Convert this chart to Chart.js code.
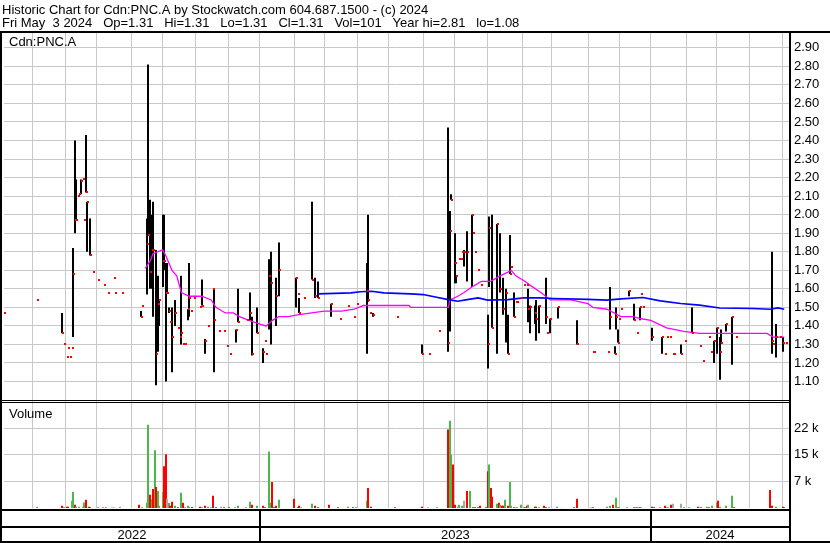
<!DOCTYPE html>
<html lang="en">

<head>
    <meta charset="UTF-8">
    <title>Historic Chart for Cdn:PNC.A</title>
    <script src="https://cdn.jsdelivr.net/npm/chart.js"></script>
    <style>
        html, body { margin: 0; padding: 0; background: #fff; }
        #chart { display: block; }
    </style>
</head>

<body>
    <canvas id="chart" width="830" height="543"></canvas>

    <script>
        const headerLines = [
            'Historic Chart for Cdn:PNC.A by Stockwatch.com 604.687.1500 - (c) 2024',
            'Fri May  3 2024   Op=1.31   Hi=1.31   Lo=1.31   Cl=1.31   Vol=101   Year hi=2.81   lo=1.08'
        ];
        const symbolLabel = 'Cdn:PNC.A';
        const volumeLabel = 'Volume';

        // x values are trading-day numbers counted from May 3 2022
        const monthStarts = [18, 39, 59, 81, 101, 122, 143, 163, 185, 204, 225, 245,
            267, 287, 308, 330, 349, 372, 392, 412, 435, 454, 475, 496];
        const yearStarts = [0, 163, 412, 500];
        const yearLabels = ['2022', '2023', '2024'];

        const priceTicks = [1.10, 1.20, 1.30, 1.40, 1.50, 1.60, 1.70, 1.80, 1.90, 2.00,
            2.10, 2.20, 2.30, 2.40, 2.50, 2.60, 2.70, 2.80, 2.90];
        const volTicks = [7400, 14800, 22200];
        const volTickLabels = ['7 k', '15 k', '22 k'];

        const days = [0, 21, 37, 38, 40, 41, 42, 43, 44, 45,
            46, 47, 48, 49, 50, 51, 52, 53, 55, 57,
            60, 64, 66, 70, 71, 75, 87, 88, 91, 92,
            93, 94, 95, 97, 98, 99, 101, 102, 103, 104,
            105, 106, 107, 109, 111, 112, 113, 114, 115, 117,
            118, 119, 121, 125, 126, 128, 130, 133, 134, 137,
            140, 142, 144, 148, 149, 155, 157, 158, 161, 165,
            166, 167, 169, 170, 173, 175, 186, 187, 188, 191,
            196, 198, 200, 208, 214, 219, 223, 225, 231, 232,
            233, 235, 250, 266, 271, 277, 283, 284, 285, 287,
            288, 290, 291, 292, 293, 295, 298, 299, 300, 302,
            304, 308, 309, 311, 314, 316, 318, 320, 321, 322,
            323, 325, 326, 327, 329, 331, 333, 334, 335, 338,
            339, 341, 345, 346, 348, 353, 365, 375, 376, 385,
            386, 389, 390, 391, 392, 393, 398, 401, 403, 405,
            406, 407, 413, 419, 421, 422, 424, 426, 427, 431,
            434, 438, 443, 445, 449, 450, 452, 454, 456, 457,
            460, 464, 466, 489, 490, 492, 494, 496, 498];
        const highs = [1.47, 1.54, 1.47, 1.30, 1.23, 1.28, 1.23, 1.28, 1.82, 2.40,
            2.19, 2.10, 2.11, 2.19, 2.19, 1.97, 2.43, 2.07, 1.98, 1.69,
            1.65, 1.62, 1.58, 1.66, 1.58, 1.58, 1.48, 1.51, 1.98, 2.81,
            2.08, 2.00, 2.07, 1.81, 1.67, 1.54, 2.00, 2.00, 1.74, 1.74,
            1.50, 1.42, 1.50, 1.54, 1.39, 1.34, 1.67, 1.30, 1.30, 1.49,
            1.74, 1.48, 1.55, 1.50, 1.65, 1.33, 1.40, 1.60, 1.60, 1.37,
            1.37, 1.29, 1.25, 1.38, 1.60, 1.43, 1.58, 1.45, 1.50, 1.28,
            1.32, 1.25, 1.76, 1.80, 1.66, 1.85, 1.66, 1.57, 1.55, 1.55,
            2.07, 1.66, 1.64, 1.52, 1.44, 1.51, 1.45, 1.52, 1.74, 2.00,
            1.47, 1.47, 1.45, 1.30, 1.25, 1.37, 2.47, 2.02, 2.11, 1.90,
            1.67, 1.76, 1.76, 1.80, 1.81, 1.91, 2.00, 1.90, 1.80, 1.70,
            1.62, 1.46, 1.99, 2.00, 1.95, 1.90, 1.66, 1.60, 1.46, 1.89,
            1.72, 1.58, 1.53, 1.53, 1.55, 1.62, 1.62, 1.60, 1.51, 1.51,
            1.54, 1.51, 1.66, 1.36, 1.44, 1.50, 1.43, 1.26, 1.26, 1.26,
            1.61, 1.29, 1.50, 1.38, 1.44, 1.49, 1.59, 1.52, 1.36, 1.50,
            1.57, 1.50, 1.39, 1.34, 1.25, 1.34, 1.34, 1.25, 1.25, 1.30,
            1.32, 1.50, 1.29, 1.21, 1.34, 1.26, 1.32, 1.39, 1.34, 1.38,
            1.41, 1.45, 1.34, 1.80, 1.30, 1.41, 1.34, 1.34, 1.31];
        const lows = [1.47, 1.54, 1.36, 1.30, 1.23, 1.28, 1.23, 1.28, 1.34, 1.90,
            1.97, 2.10, 2.11, 2.11, 2.19, 1.97, 2.12, 1.80, 1.78, 1.69,
            1.65, 1.62, 1.58, 1.66, 1.58, 1.58, 1.45, 1.51, 1.57, 1.89,
            1.60, 1.60, 1.45, 1.08, 1.26, 1.40, 1.61, 1.70, 1.10, 1.58,
            1.47, 1.42, 1.15, 1.40, 1.39, 1.34, 1.30, 1.30, 1.30, 1.43,
            1.45, 1.48, 1.55, 1.50, 1.51, 1.25, 1.40, 1.60, 1.15, 1.37,
            1.37, 1.29, 1.25, 1.31, 1.42, 1.43, 1.43, 1.24, 1.36, 1.20,
            1.32, 1.25, 1.38, 1.30, 1.40, 1.56, 1.50, 1.57, 1.47, 1.55,
            1.65, 1.55, 1.55, 1.45, 1.44, 1.51, 1.45, 1.52, 1.25, 1.53,
            1.47, 1.45, 1.45, 1.25, 1.25, 1.37, 1.26, 1.37, 2.08, 1.63,
            1.63, 1.76, 1.76, 1.80, 1.72, 1.64, 1.61, 1.90, 1.80, 1.70,
            1.62, 1.17, 1.61, 1.39, 1.25, 1.58, 1.46, 1.31, 1.25, 1.68,
            1.72, 1.45, 1.53, 1.53, 1.55, 1.62, 1.62, 1.42, 1.36, 1.41,
            1.32, 1.36, 1.41, 1.36, 1.36, 1.44, 1.30, 1.26, 1.26, 1.26,
            1.38, 1.25, 1.38, 1.31, 1.44, 1.49, 1.56, 1.43, 1.36, 1.43,
            1.57, 1.50, 1.32, 1.25, 1.25, 1.34, 1.34, 1.25, 1.25, 1.25,
            1.32, 1.36, 1.29, 1.21, 1.34, 1.26, 1.20, 1.25, 1.11, 1.31,
            1.37, 1.19, 1.34, 1.25, 1.30, 1.23, 1.34, 1.26, 1.31];
        const closes = [1.47, 1.54, 1.36, 1.30, 1.23, 1.28, 1.23, 1.28, 1.68, 1.97,
            1.97, 2.10, 2.11, 2.18, 2.19, 1.97, 2.12, 2.07, 1.78, 1.69,
            1.65, 1.62, 1.58, 1.66, 1.58, 1.58, 1.45, 1.51, 1.84, 1.89,
            1.69, 1.81, 1.81, 1.25, 1.52, 1.54, 1.75, 1.75, 1.58, 1.58,
            1.48, 1.42, 1.34, 1.47, 1.39, 1.34, 1.36, 1.30, 1.30, 1.49,
            1.55, 1.48, 1.55, 1.50, 1.51, 1.32, 1.40, 1.60, 1.43, 1.37,
            1.37, 1.29, 1.25, 1.38, 1.42, 1.43, 1.47, 1.25, 1.36, 1.26,
            1.32, 1.25, 1.67, 1.63, 1.56, 1.70, 1.66, 1.57, 1.47, 1.55,
            1.65, 1.56, 1.55, 1.52, 1.44, 1.51, 1.45, 1.52, 1.59, 1.54,
            1.47, 1.46, 1.45, 1.25, 1.25, 1.37, 1.31, 1.91, 2.08, 1.74,
            1.67, 1.76, 1.76, 1.80, 1.80, 1.80, 2.00, 1.90, 1.80, 1.70,
            1.62, 1.30, 1.93, 1.39, 1.95, 1.60, 1.49, 1.58, 1.25, 1.68,
            1.72, 1.45, 1.53, 1.53, 1.55, 1.62, 1.62, 1.49, 1.50, 1.47,
            1.44, 1.51, 1.45, 1.36, 1.44, 1.50, 1.30, 1.26, 1.26, 1.26,
            1.45, 1.25, 1.45, 1.31, 1.44, 1.49, 1.59, 1.43, 1.36, 1.50,
            1.57, 1.50, 1.34, 1.34, 1.25, 1.34, 1.34, 1.25, 1.25, 1.25,
            1.32, 1.36, 1.29, 1.21, 1.34, 1.26, 1.32, 1.39, 1.26, 1.31,
            1.41, 1.45, 1.34, 1.32, 1.30, 1.34, 1.34, 1.31, 1.31];

        // moving averages
        const fastDays = [90, 93, 95, 98, 101, 103, 107, 110, 113, 118,
            121, 126, 132, 135, 141, 146, 150, 156, 163, 167,
            171, 175, 181, 187, 196, 204, 215, 223, 229, 238,
            258, 259, 283, 284, 289, 293, 298, 304, 310, 316,
            321, 323, 326, 332, 335, 342, 348, 361, 372, 375,
            384, 393, 401, 405, 412, 422, 433, 443, 477, 486,
            490, 497];
        const fastAvg = [1.71, 1.75, 1.79, 1.80, 1.81, 1.78, 1.70, 1.67, 1.58, 1.56,
            1.56, 1.56, 1.54, 1.50, 1.47, 1.47, 1.45, 1.43, 1.41, 1.40,
            1.43, 1.45, 1.45, 1.46, 1.47, 1.48, 1.48, 1.49, 1.51, 1.51,
            1.51, 1.50, 1.50, 1.54, 1.56, 1.58, 1.61, 1.64, 1.64, 1.67,
            1.69, 1.70, 1.67, 1.64, 1.62, 1.58, 1.54, 1.54, 1.52, 1.50,
            1.49, 1.45, 1.45, 1.44, 1.43, 1.39, 1.37, 1.36, 1.36, 1.36,
            1.34, 1.34];
        const slowDays = [200, 221, 227, 234, 242, 259, 267, 274, 283, 289,
            295, 302, 308, 321, 331, 342, 350, 372, 384, 393,
            407, 418, 431, 443, 456, 477, 488, 493, 497];
        const slowAvg = [1.573, 1.578, 1.584, 1.587, 1.578, 1.573, 1.569, 1.557, 1.542, 1.533,
            1.542, 1.551, 1.539, 1.542, 1.551, 1.551, 1.548, 1.543, 1.539, 1.546,
            1.553, 1.535, 1.521, 1.512, 1.497, 1.494, 1.490, 1.497, 1.490];

        const volDays = [21, 37, 38, 40, 41, 43, 44, 45, 46, 48,
            50, 51, 52, 54, 55, 60, 63, 65, 69, 70,
            74, 86, 88, 91, 92, 93, 94, 95, 96, 97,
            98, 99, 101, 102, 103, 104, 105, 106, 107, 109,
            111, 113, 114, 115, 117, 118, 120, 125, 126, 128,
            130, 132, 133, 135, 138, 140, 143, 147, 149, 154,
            157, 158, 161, 165, 166, 169, 170, 171, 172, 173,
            175, 185, 187, 188, 189, 196, 198, 200, 207, 213,
            219, 222, 224, 231, 232, 234, 249, 266, 270, 276,
            283, 284, 285, 286, 287, 289, 290, 292, 293, 295,
            297, 299, 300, 302, 303, 307, 308, 309, 310, 311,
            314, 315, 316, 317, 318, 319, 321, 322, 323, 325,
            326, 327, 329, 331, 332, 333, 334, 338, 339, 341,
            344, 345, 347, 352, 363, 365, 374, 375, 384, 386,
            388, 390, 391, 392, 397, 401, 402, 403, 404, 405,
            406, 413, 414, 418, 421, 422, 423, 425, 426, 431,
            433, 436, 442, 444, 448, 449, 451, 454, 455, 456,
            460, 464, 465, 488, 489, 492, 496, 497];
        const volumes = [250, 640, 150, 365, 365, 2000, 4470, 900, 365, 365,
            365, 1550, 2280, 365, 200, 150, 150, 150, 150, 150,
            365, 900, 200, 1460, 23100, 3650, 2460, 5300, 16000, 5840,
            4750, 640, 4470, 11600, 14900, 2560, 1370, 640, 1730, 640,
            200, 4200, 1460, 200, 640, 300, 300, 365, 200, 640,
            365, 200, 3380, 200, 365, 200, 200, 200, 640, 200,
            1730, 900, 640, 640, 200, 15700, 1460, 7200, 200, 640,
            2280, 2560, 200, 640, 200, 1190, 640, 200, 900, 200,
            365, 200, 200, 2000, 5570, 365, 200, 365, 200, 200,
            21800, 24200, 14800, 12100, 900, 365, 900, 640, 2000, 4750,
            4750, 200, 200, 200, 640, 200, 10200, 12100, 5570, 3100,
            1190, 1460, 900, 640, 640, 2280, 640, 7200, 640, 200,
            200, 200, 900, 200, 200, 640, 900, 365, 365, 200,
            640, 200, 200, 365, 200, 2560, 200, 200, 365, 640,
            900, 2830, 200, 200, 200, 200, 200, 200, 200, 200,
            200, 365, 200, 200, 640, 200, 200, 900, 1190, 1190,
            200, 200, 365, 200, 365, 200, 640, 1460, 2000, 365,
            640, 3380, 200, 5020, 640, 365, 365, 200];
        // u = up day, d = down day, n = unchanged
        const volDir = ['u', 'd', 'd', 'd', 'd', 'u', 'u', 'd', 'u', 'u',
            'u', 'u', 'd', 'd', 'd', 'd', 'd', 'd', 'u', 'u',
            'n', 'd', 'u', 'u', 'u', 'd', 'u', 'd', 'u', 'd',
            'u', 'u', 'u', 'd', 'd', 'n', 'u', 'd', 'd', 'u',
            'd', 'u', 'd', 'u', 'u', 'u', 'd', 'd', 'u', 'd',
            'u', 'u', 'd', 'd', 'n', 'd', 'd', 'u', 'u', 'u',
            'u', 'd', 'u', 'd', 'd', 'u', 'u', 'd', 'd', 'd',
            'u', 'd', 'd', 'd', 'u', 'u', 'd', 'd', 'd', 'd',
            'u', 'd', 'u', 'u', 'd', 'd', 'd', 'd', 'n', 'u',
            'd', 'u', 'u', 'd', 'd', 'u', 'u', 'u', 'n', 'd',
            'u', 'd', 'd', 'd', 'd', 'd', 'd', 'u', 'd', 'd',
            'u', 'd', 'u', 'd', 'd', 'u', 'd', 'u', 'u', 'd',
            'n', 'u', 'u', 'u', 'd', 'd', 'u', 'd', 'd', 'u',
            'd', 'd', 'u', 'u', 'd', 'd', 'n', 'd', 'u', 'u',
            'd', 'u', 'd', 'u', 'u', 'd', 'u', 'd', 'u', 'd',
            'u', 'd', 'd', 'u', 'd', 'u', 'u', 'd', 'n', 'n',
            'u', 'u', 'd', 'd', 'u', 'd', 'u', 'u', 'd', 'u',
            'u', 'u', 'd', 'd', 'd', 'u', 'd', 'd'];

        const dirColors = { u: '#4cb84c', d: '#ff0000', n: '#a8a8a8' };
        const gridColor = '#c8c8c8';
        const fontFamily = '"Liberation Sans", Arial, sans-serif';

        const rangeBars = days.map((d, i) => ({ x: d, y: [lows[i], highs[i]] }));
        const closeDots = days.map((d, i) => ({ x: d, y: closes[i] }));
        const fastLine = fastDays.map((d, i) => ({ x: d, y: fastAvg[i] }));
        const slowLine = slowDays.map((d, i) => ({ x: d, y: slowAvg[i] }));
        const volBars = volDays.map((d, i) => ({ x: d, y: volumes[i] }));

        // snap bars and close marks to whole pixels so they stay crisp
        const snapPlugin = {
            id: 'snap',
            afterDatasetsUpdate(chart) {
                chart.data.datasets.forEach((ds, i) => {
                    const meta = chart.getDatasetMeta(i);
                    meta.data.forEach(el => {
                        if (meta.type === 'bar') {
                            el.x = Math.round(el.x);
                        } else if (meta.type === 'scatter') {
                            el.x = Math.round(el.x) + 1;
                            el.y = Math.round(el.y);
                        }
                    });
                });
            }
        };

        // header, panel labels, frame lines and year strip
        const framePlugin = {
            id: 'frame',
            afterDraw(chart) {
                const ctx = chart.ctx;
                const area = chart.chartArea;
                const xs = chart.scales.x;
                const vTop = chart.scales.v.top;
                const W = chart.width, H = chart.height;
                ctx.save();
                ctx.fillStyle = '#000';
                ctx.font = '13px ' + fontFamily;
                ctx.textAlign = 'left';
                ctx.textBaseline = 'alphabetic';
                ctx.fillText(headerLines[0], 2, 14);
                ctx.fillText(headerLines[1], 2, 27);
                ctx.fillText(symbolLabel, 9, 46);
                ctx.fillText(volumeLabel, 9, vTop + 17);

                ctx.fillRect(0, area.top - 2, W, 2);
                ctx.fillRect(0, area.top - 2, 2, H - area.top + 2);
                ctx.fillRect(area.right, area.top - 2, 2, H - area.top + 2);
                ctx.fillRect(0, vTop - 1, area.right, 1);
                ctx.fillRect(0, vTop + 1, area.right, 1);
                ctx.fillRect(0, area.bottom + 1, area.right, 2);
                ctx.fillRect(0, area.bottom + 18, area.right, 2);
                ctx.fillRect(0, H - 2, W, 2);

                ctx.textAlign = 'center';
                for (let i = 0; i < yearLabels.length; i++) {
                    const x0 = xs.getPixelForValue(yearStarts[i]);
                    const x1 = Math.min(xs.getPixelForValue(yearStarts[i + 1]), area.right);
                    if (i > 0) ctx.fillRect(Math.round(x0) - 1, area.bottom + 1, 2, H - area.bottom - 1);
                    ctx.fillText(yearLabels[i], (x0 + x1) / 2, H - 4);
                }
                ctx.restore();
            }
        };

        new Chart(document.getElementById('chart'), {
            type: 'bar',
            data: {
                datasets: [
                    {
                        type: 'scatter',
                        data: closeDots,
                        yAxisID: 'y',
                        pointStyle: 'rect',
                        pointRadius: 1.42,
                        backgroundColor: '#ff0000',
                        borderWidth: 0,
                        order: 0
                    },
                    {
                        type: 'line',
                        data: slowLine,
                        yAxisID: 'y',
                        borderColor: '#0000ff',
                        borderWidth: 1.6,
                        pointRadius: 0,
                        order: 1
                    },
                    {
                        type: 'line',
                        data: fastLine,
                        yAxisID: 'y',
                        borderColor: '#ff00ff',
                        borderWidth: 1.3,
                        pointRadius: 0,
                        order: 1
                    },
                    {
                        type: 'bar',
                        data: rangeBars,
                        yAxisID: 'y',
                        backgroundColor: '#000000',
                        barThickness: 2,
                        inflateAmount: 0,
                        grouped: false,
                        order: 2
                    },
                    {
                        type: 'bar',
                        data: volBars,
                        yAxisID: 'v',
                        backgroundColor: volDir.map(d => dirColors[d]),
                        barThickness: 2,
                        inflateAmount: 0,
                        grouped: false,
                        order: 3
                    }
                ]
            },
            options: {
                responsive: false,
                animation: false,
                devicePixelRatio: 1,
                layout: { padding: { top: 33, left: 2, right: 0, bottom: 0 } },
                plugins: {
                    legend: { display: false },
                    tooltip: { enabled: false }
                },
                scales: {
                    x: {
                        type: 'linear',
                        min: 0,
                        max: 500,
                        offset: false,
                        grid: { color: gridColor, offset: false, drawTicks: false },
                        border: { display: false },
                        ticks: { display: false },
                        afterBuildTicks: s => { s.ticks = monthStarts.map(v => ({ value: v })); },
                        afterFit: s => { s.height = 35; }
                    },
                    y: {
                        position: 'right',
                        stack: 'panels',
                        stackWeight: 368,
                        min: 0.995,
                        max: 2.98,
                        grid: { color: gridColor, drawTicks: false },
                        border: { display: false },
                        ticks: {
                            autoSkip: false,
                            padding: 5,
                            color: '#000',
                            font: { family: fontFamily, size: 13 },
                            callback: v => Number(v).toFixed(2)
                        },
                        afterBuildTicks: s => { s.ticks = priceTicks.map(v => ({ value: v })); },
                        afterFit: s => { s.width = 41; }
                    },
                    v: {
                        position: 'right',
                        stack: 'panels',
                        stackWeight: 107,
                        min: 0,
                        max: 29700,
                        grid: { color: gridColor, drawTicks: false },
                        border: { display: false },
                        ticks: {
                            autoSkip: false,
                            padding: 5,
                            color: '#000',
                            font: { family: fontFamily, size: 13 },
                            callback: (v, i) => volTickLabels[i]
                        },
                        afterBuildTicks: s => { s.ticks = volTicks.map(v => ({ value: v })); },
                        afterFit: s => { s.width = 41; }
                    }
                }
            },
            plugins: [snapPlugin, framePlugin]
        });
    </script>
</body>

</html>
